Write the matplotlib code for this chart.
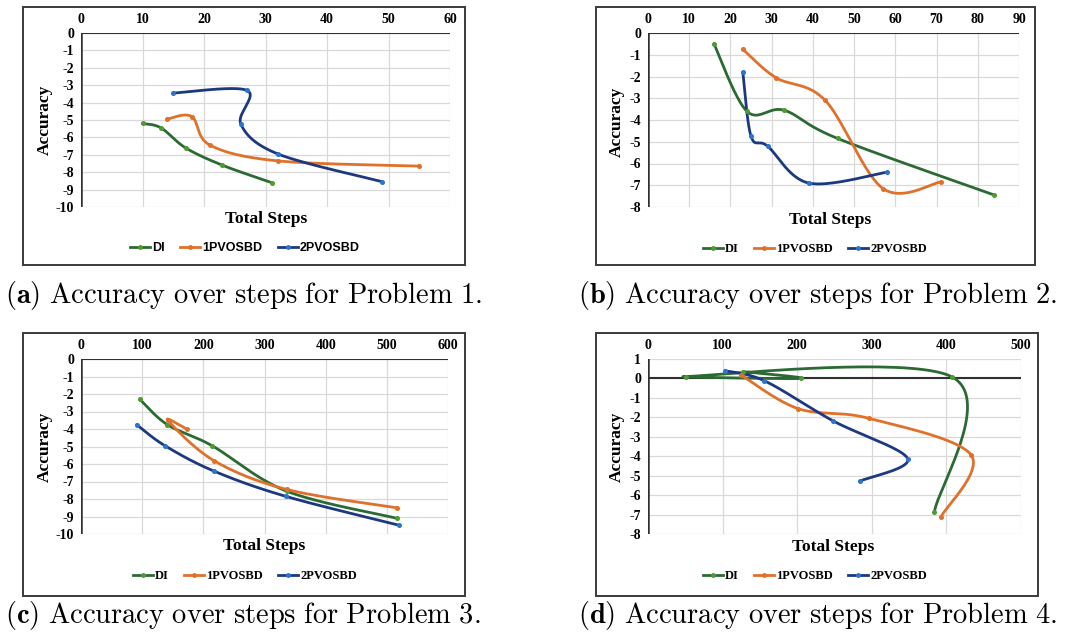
"""Accuracy over total steps for four problems (DI vs 1PVOSBD vs 2PVOSBD)."""

import numpy as np
import matplotlib
matplotlib.use("Agg")
import matplotlib.pyplot as plt
from matplotlib.lines import Line2D
from matplotlib.patches import Rectangle

plt.rcParams["axes.unicode_minus"] = False
plt.rcParams["mathtext.fontset"] = "cm"

W, H = 1070, 636

SERIES = ["DI", "1PVOSBD", "2PVOSBD"]
LINE_COLORS = ["#2C6A33", "#E0712B", "#1C3880"]
MARK_COLORS = ["#4F9A32", "#E0712B", "#2C74CF"]

# Problem 1
p1_di_x = [10, 13, 17, 23, 31]
p1_di_y = [-5.2, -5.45, -6.6, -7.6, -8.6]
p1_one_x = [14, 18, 21, 32, 55]
p1_one_y = [-4.95, -4.8, -6.45, -7.35, -7.65]
p1_two_x = [15, 27, 26, 32, 49]
p1_two_y = [-3.45, -3.3, -5.25, -6.95, -8.55]

# Problem 2
p2_di_x = [16, 24, 33, 46, 84]
p2_di_y = [-0.5, -3.6, -3.55, -4.85, -7.45]
p2_one_x = [23, 31, 43, 57, 71]
p2_one_y = [-0.75, -2.05, -3.1, -7.15, -6.85]
p2_two_x = [23, 25, 29, 39, 58]
p2_two_y = [-1.8, -4.75, -5.2, -6.9, -6.4]

# Problem 3
p3_di_x = [96, 141, 214, 336, 516]
p3_di_y = [-2.3, -3.75, -4.95, -7.55, -9.1]
p3_one_x = [173, 142, 217, 336, 516]
p3_one_y = [-4.0, -3.5, -5.8, -7.45, -8.5]
p3_two_x = [91, 137, 217, 335, 520]
p3_two_y = [-3.75, -4.95, -6.4, -7.85, -9.5]

# Problem 4
p4_di_x = [128, 205, 51, 408, 384]
p4_di_y = [0.35, 0.0, 0.1, 0.07, -6.85]
p4_one_x = [125, 201, 296, 433, 393]
p4_one_y = [0.17, -1.55, -2.05, -3.93, -7.1]
p4_two_x = [103, 156, 248, 348, 284]
p4_two_y = [0.4, -0.12, -2.18, -4.12, -5.27]

CAPTIONS = [
    ("(a)", "Accuracy over steps for Problem 1."),
    ("(b)", "Accuracy over steps for Problem 2."),
    ("(c)", "Accuracy over steps for Problem 3."),
    ("(d)", "Accuracy over steps for Problem 4."),
]

PANELS = [
    dict(data=[(p1_di_x, p1_di_y), (p1_one_x, p1_one_y), (p1_two_x, p1_two_y)],
         xlim=(0, 60), xstep=10, ylim=(-10, 0),
         box=(23, 7, 465, 265), ax=(81, 33, 450, 207),
         ylab=(45, 120), xlab=(266, 219), leg=(245, 248), cap=(5, 296),
         legfont="Liberation Sans"),
    dict(data=[(p2_di_x, p2_di_y), (p2_one_x, p2_one_y), (p2_two_x, p2_two_y)],
         xlim=(0, 90), xstep=10, ylim=(-8, 0),
         box=(596, 7, 1035, 265), ax=(648, 33, 1019, 207),
         ylab=(617, 122), xlab=(830, 220), leg=(815, 249), cap=(578, 296),
         legfont="Liberation Serif"),
    dict(data=[(p3_di_x, p3_di_y), (p3_one_x, p3_one_y), (p3_two_x, p3_two_y)],
         xlim=(0, 600), xstep=100, ylim=(-10, 0),
         box=(23, 333, 465, 596), ax=(81, 359, 448, 534),
         ylab=(45, 447), xlab=(264, 546), leg=(245, 576), cap=(5, 615),
         legfont="Liberation Serif"),
    dict(data=[(p4_di_x, p4_di_y), (p4_one_x, p4_one_y), (p4_two_x, p4_two_y)],
         xlim=(0, 500), xstep=100, ylim=(-8, 1),
         box=(596, 333, 1038, 596), ax=(648, 359, 1021, 534),
         ylab=(617, 447), xlab=(833, 547), leg=(815, 576), cap=(578, 615),
         legfont="Liberation Serif"),
]


def fx(x):
    return x / W


def fy(y):
    return 1 - y / H


def smooth_line(ax, xs, ys, n=40):
    # Excel-like smoothed line: Catmull-Rom Bezier in screen space
    pts = ax.transData.transform(np.column_stack([xs, ys]))
    out = [pts[0]]
    t = np.linspace(0, 1, n)[1:, None]
    for i in range(len(pts) - 1):
        p0 = pts[i - 1] if i > 0 else pts[i]
        p1, p2 = pts[i], pts[i + 1]
        p3 = pts[i + 2] if i + 2 < len(pts) else pts[i + 1]
        c1 = p1 + (p2 - p0) / 6
        c2 = p2 - (p3 - p1) / 6
        seg = ((1 - t) ** 3 * p1 + 3 * (1 - t) ** 2 * t * c1
               + 3 * (1 - t) * t ** 2 * c2 + t ** 3 * p2)
        out.extend(seg)
    return ax.transData.inverted().transform(np.array(out))


fig = plt.figure(figsize=(W / 100, H / 100), dpi=100)
serif_bold = dict(family="Liberation Serif", weight="bold")

for panel, (lab, cap) in zip(PANELS, CAPTIONS):
    bx0, by0, bx1, by1 = panel["box"]
    fig.patches.append(Rectangle((fx(bx0), fy(by1)), fx(bx1 - bx0), (by1 - by0) / H,
                                 transform=fig.transFigure, fill=False,
                                 edgecolor="#3A3A3A", lw=1.4))

    x0, y0, x1, y1 = panel["ax"]
    ax = fig.add_axes([fx(x0), fy(y1), fx(x1 - x0), (y1 - y0) / H])
    ax.set_xlim(*panel["xlim"])
    ax.set_ylim(*panel["ylim"])
    ax.set_xticks(np.arange(panel["xlim"][0], panel["xlim"][1] + 1, panel["xstep"]))
    ax.set_yticks(np.arange(panel["ylim"][0], panel["ylim"][1] + 1, 1))
    ax.xaxis.tick_top()
    ax.tick_params(length=0, labelsize=10, pad=5)
    for t in ax.get_xticklabels() + ax.get_yticklabels():
        t.set_fontfamily("Liberation Serif")
        t.set_fontweight("bold")
    for s in ax.spines.values():
        s.set_visible(False)
    ax.grid(True, color="#D9D9D9", lw=0.9)
    ax.set_axisbelow(True)
    ax.axhline(0, color="#303030", lw=1.5, zorder=2)
    ax.axvline(panel["xlim"][0], color="#303030", lw=1.8, zorder=2)

    for (xs, ys), lc, mc in zip(panel["data"], LINE_COLORS, MARK_COLORS):
        curve = smooth_line(ax, xs, ys)
        ax.plot(curve[:, 0], curve[:, 1], color=lc, lw=2.0, zorder=3,
                solid_capstyle="round")
        ax.plot(xs, ys, ls="none", marker="o", ms=2.6, color=mc, zorder=4)

    fig.text(fx(panel["ylab"][0]), fy(panel["ylab"][1]), "Accuracy", rotation=90,
             ha="center", va="center", fontsize=12.5, **serif_bold)
    fig.text(fx(panel["xlab"][0]), fy(panel["xlab"][1]), "Total Steps",
             ha="center", va="center", fontsize=12.5, **serif_bold)

    handles = [Line2D([], [], color=lc, lw=2.0, marker="o", ms=2.5, markerfacecolor=mc,
                      markeredgecolor=mc) for lc, mc in zip(LINE_COLORS, MARK_COLORS)]
    ax.legend(handles, SERIES, loc="center", ncol=3, frameon=False,
              bbox_to_anchor=(fx(panel["leg"][0]), fy(panel["leg"][1])),
              bbox_transform=fig.transFigure, handlelength=1.6, handletextpad=0.2,
              columnspacing=1.2,
              prop=dict(family=panel["legfont"], weight="bold", size=9))

    fig.text(fx(panel["cap"][0]), fy(panel["cap"][1]),
             r"$\mathbf{" + lab + r"}\ \mathrm{" + cap.replace(" ", r"\ ") + r"}$",
             ha="left", va="center", fontsize=20.5)

fig.savefig("out.png", dpi=100)
